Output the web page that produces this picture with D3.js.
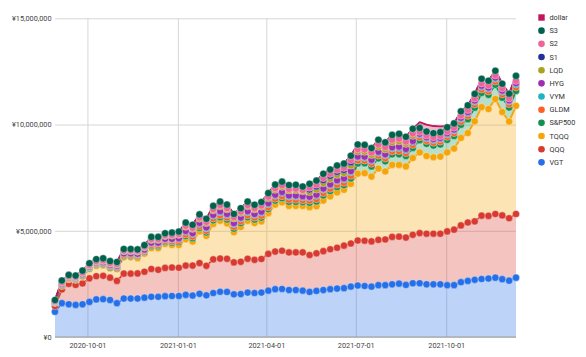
<!DOCTYPE html>
<html><head><meta charset="utf-8">
<script src="https://cdn.jsdelivr.net/npm/d3@7"></script>
<style>
body{margin:0;background:#fff}
svg{display:block}
text{font-family:Roboto, Arial, sans-serif}
</style>
</head><body>
<svg id="chart" width="586" height="357"></svg>
<script>
// ---- data (values in million yen) ----
const dates = ["2020-08-29","2020-09-05","2020-09-12","2020-09-19","2020-09-26","2020-10-03","2020-10-10","2020-10-17","2020-10-24","2020-10-31",
"2020-11-07","2020-11-14","2020-11-21","2020-11-28","2020-12-05","2020-12-12","2020-12-19","2020-12-26","2021-01-02","2021-01-09",
"2021-01-16","2021-01-23","2021-01-30","2021-02-06","2021-02-13","2021-02-20","2021-02-27","2021-03-06","2021-03-13","2021-03-20",
"2021-03-27","2021-04-03","2021-04-10","2021-04-17","2021-04-24","2021-05-01","2021-05-08","2021-05-15","2021-05-22","2021-05-29",
"2021-06-05","2021-06-12","2021-06-19","2021-06-26","2021-07-03","2021-07-10","2021-07-17","2021-07-24","2021-07-31","2021-08-07",
"2021-08-14","2021-08-21","2021-08-28","2021-09-04","2021-09-11","2021-09-18","2021-09-25","2021-10-02","2021-10-09","2021-10-16",
"2021-10-23","2021-10-30","2021-11-06","2021-11-13","2021-11-20","2021-11-27","2021-12-04","2021-12-11"];

const VGT = [1.19,1.59,1.54,1.51,1.54,1.65,1.77,1.78,1.74,1.59,
 1.81,1.81,1.81,1.85,1.89,1.89,1.92,1.93,1.93,1.98,
 1.95,2.03,1.96,2.07,2.13,2.12,2.01,2.02,2.09,2.07,
 2.09,2.18,2.25,2.26,2.21,2.21,2.18,2.12,2.17,2.21,
 2.25,2.28,2.30,2.37,2.42,2.40,2.37,2.44,2.44,2.48,
 2.51,2.45,2.53,2.53,2.48,2.48,2.48,2.44,2.44,2.58,
 2.64,2.69,2.73,2.75,2.79,2.72,2.65,2.79];
const QQQ = [0.27,0.65,0.96,0.94,0.98,1.11,1.09,1.10,1.05,1.05,
 1.17,1.17,1.18,1.22,1.31,1.27,1.33,1.34,1.33,1.38,
 1.41,1.45,1.39,1.58,1.56,1.56,1.50,1.52,1.59,1.56,
 1.58,1.73,1.77,1.80,1.77,1.77,1.80,1.74,1.77,1.83,
 1.88,1.92,2.00,2.03,2.12,2.13,2.13,2.13,2.15,2.23,
 2.21,2.23,2.28,2.36,2.38,2.38,2.38,2.53,2.61,2.67,
 2.75,2.75,2.98,2.95,3.00,3.00,2.94,3.00];
const TQQQ = [0.14,0.16,0.22,0.24,0.32,0.43,0.49,0.49,0.44,0.55,
 0.77,0.77,0.72,0.85,0.98,1.02,1.13,1.06,1.07,1.24,
 1.13,1.49,1.41,1.67,1.78,1.67,1.42,1.64,1.79,1.73,
 1.77,1.92,2.21,2.28,2.19,2.19,2.19,2.25,2.21,2.38,
 2.49,2.61,2.63,2.81,3.15,3.18,3.05,3.36,3.20,3.39,
 3.38,3.35,3.61,3.80,3.66,3.60,3.63,3.72,3.82,4.12,
 4.21,4.71,5.11,5.03,5.41,4.87,4.55,5.09];
const SP500 = [0.02,0.03,0.03,0.03,0.04,0.04,0.05,0.05,0.05,0.05,
 0.07,0.07,0.09,0.08,0.10,0.10,0.09,0.11,0.14,0.15,
 0.16,0.16,0.16,0.17,0.17,0.18,0.17,0.18,0.17,0.17,
 0.18,0.19,0.19,0.19,0.19,0.19,0.18,0.21,0.23,0.25,
 0.25,0.25,0.22,0.26,0.48,0.47,0.48,0.48,0.48,0.50,
 0.50,0.49,0.48,0.57,0.57,0.55,0.57,0.59,0.59,0.62,
 0.65,0.64,0.67,0.67,0.67,0.67,0.66,0.70];
const GLDM = [0.01,0.03,0.02,0.02,0.03,0.03,0.03,0.03,0.04,0.04,
 0.04,0.04,0.04,0.04,0.05,0.05,0.05,0.06,0.06,0.08,
 0.08,0.08,0.08,0.09,0.09,0.09,0.09,0.09,0.09,0.09,
 0.09,0.09,0.09,0.10,0.10,0.10,0.09,0.10,0.11,0.11,
 0.11,0.11,0.11,0.12,0.14,0.13,0.13,0.13,0.14,0.14,
 0.15,0.14,0.14,0.14,0.14,0.14,0.14,0.14,0.14,0.15,
 0.16,0.16,0.16,0.16,0.16,0.16,0.16,0.17];
const VYM = [0.02,0.03,0.03,0.03,0.04,0.04,0.04,0.05,0.05,0.05,
 0.06,0.06,0.06,0.06,0.08,0.08,0.08,0.09,0.09,0.12,
 0.12,0.12,0.12,0.13,0.14,0.13,0.13,0.13,0.14,0.13,
 0.14,0.14,0.14,0.15,0.15,0.15,0.14,0.14,0.16,0.16,
 0.16,0.16,0.16,0.17,0.14,0.13,0.13,0.13,0.14,0.14,
 0.15,0.14,0.14,0.12,0.12,0.12,0.12,0.12,0.12,0.13,
 0.13,0.13,0.13,0.13,0.13,0.13,0.13,0.14];
const HYG = [0.01,0.02,0.01,0.01,0.02,0.02,0.02,0.02,0.02,0.02,
 0.02,0.02,0.02,0.02,0.03,0.03,0.02,0.03,0.03,0.04,
 0.04,0.04,0.04,0.04,0.05,0.04,0.04,0.04,0.05,0.04,
 0.05,0.05,0.05,0.05,0.05,0.05,0.05,0.04,0.05,0.05,
 0.05,0.05,0.05,0.05,0.05,0.05,0.05,0.05,0.05,0.05,
 0.06,0.05,0.05,0.05,0.05,0.05,0.05,0.05,0.05,0.05,
 0.05,0.05,0.05,0.05,0.05,0.05,0.05,0.06];
const LQD = [0.02,0.04,0.03,0.03,0.04,0.04,0.05,0.06,0.06,0.06,
 0.10,0.10,0.10,0.10,0.13,0.13,0.13,0.15,0.16,0.20,
 0.20,0.20,0.20,0.21,0.23,0.22,0.22,0.22,0.23,0.22,
 0.23,0.23,0.23,0.24,0.24,0.25,0.23,0.22,0.24,0.25,
 0.25,0.25,0.25,0.26,0.23,0.23,0.23,0.23,0.23,0.24,
 0.25,0.24,0.24,0,0,0,0,0,0,0,
 0,0,0,0,0,0,0,0];
const S1 = [0,0,0,0,0,0,0,0,0,0,
 0,0,0,0,0,0,0,0,0,0,
 0,0,0,0,0,0,0,0,0,0,
 0,0,0,0,0,0,0,0.13,0.15,0.15,
 0.15,0.15,0.15,0.16,0,0,0,0,0,0,
 0,0,0,0,0,0,0,0,0,0,
 0,0,0,0,0,0,0,0];
const S2 = [0.01,0.03,0.02,0.02,0.03,0.03,0.03,0.03,0.03,0.03,
 0.03,0.03,0.03,0.03,0.04,0.04,0.04,0.04,0.04,0.05,
 0.05,0.06,0.06,0.06,0.06,0.06,0.06,0.06,0.06,0.06,
 0.06,0.07,0.07,0.07,0.07,0.07,0.06,0.08,0.08,0.09,
 0.09,0.09,0.09,0.09,0.11,0.11,0.11,0.11,0.11,0.11,
 0.12,0.11,0.11,0.09,0.09,0.09,0.09,0.09,0.09,0.10,
 0.10,0.10,0.11,0.11,0.11,0.11,0.10,0.11];
const S3 = [0.05,0.08,0.06,0.06,0.08,0.08,0.09,0.09,0.09,0.09,
 0.07,0.07,0.07,0.07,0.10,0.10,0.09,0.10,0.11,0.14,
 0.14,0.14,0.14,0.15,0.16,0.16,0.15,0.16,0.16,0.15,
 0.16,0.17,0.17,0.17,0.18,0.18,0.16,0.18,0.19,0.20,
 0.20,0.20,0.20,0.21,0.22,0.21,0.21,0.22,0.22,0.23,
 0.23,0.22,0.22,0.18,0.18,0.18,0.18,0.19,0.19,0.20,
 0.21,0.21,0.21,0.21,0.21,0.21,0.21,0.23];
const dollar = [0,0,0,0,0,0,0,0,0,0,
 0,0,0,0,0,0,0,0,0,0,
 0,0,0,0,0,0,0,0,0,0,
 0,0,0,0,0,0,0,0,0,0,
 0,0,0,0,0,0,0,0,0,0,
 0,0,0,0.27,0.33,0.34,0.27,0.06,0,0,
 0,0,0,0,0,0,0,0];

const seriesNames = ["VGT","QQQ","TQQQ","S&P500","GLDM","VYM","HYG","LQD","S1","S2","S3","dollar"];
const seriesValues = [VGT,QQQ,TQQQ,SP500,GLDM,VYM,HYG,LQD,S1,S2,S3,dollar];
const seriesColors = ["#2570e8","#d83a30","#f5a508","#0f9152","#ff5f22","#20b3c2","#9c2fb3","#aaa31c","#24309a","#f2619a","#00614c","#c2185b"];
const yTicks = [0, 5000000, 10000000, 15000000];
const xTickLabels = ["2020-10-01","2021-01-01","2021-04-01","2021-07-01","2021-10-01"];

// ---- build table ----
const parse = d3.timeParse("%Y-%m-%d");
const table = dates.map((d, i) => {
  const row = {date: parse(d)};
  seriesNames.forEach((n, k) => { row[n] = seriesValues[k][i] * 1e6; });
  return row;
});
const stacked = d3.stack().keys(seriesNames)(table);

const L = 55, R = 516, T = 18.3, B = 337;
const x = d3.scaleTime().domain(d3.extent(table, d => d.date)).range([L, R]);
const y = d3.scaleLinear().domain([0, 15000000]).range([B, T]);

const svg = d3.select("#chart");
const fontSize = 7.3;

// horizontal gridlines + y labels
const yAxis = svg.append("g").attr("transform", `translate(${L},0)`)
  .call(d3.axisLeft(y).tickValues(yTicks).tickSize(-(R - L)).tickPadding(3.5)
    .tickFormat(v => "¥" + d3.format(",")(v)));
yAxis.select(".domain").remove();
yAxis.selectAll("line").attr("stroke", "#d6d6d6").attr("stroke-width", 1);
yAxis.selectAll("text").attr("font-size", fontSize).attr("fill", "#444");

// vertical gridlines + x labels
const xAxis = svg.append("g").attr("transform", `translate(0,${B})`)
  .call(d3.axisBottom(x).tickValues(xTickLabels.map(parse)).tickSize(-(B - T)).tickPadding(5.5)
    .tickFormat(d3.timeFormat("%Y-%m-%d")));
xAxis.select(".domain").remove();
xAxis.selectAll("line").attr("stroke", "#d6d6d6").attr("stroke-width", 1);
xAxis.selectAll("text").attr("font-size", fontSize).attr("fill", "#444");

// areas
const area = d3.area().x(d => x(d.data.date)).y0(d => y(d[0])).y1(d => y(d[1]));
svg.append("g").selectAll("path").data(stacked).join("path")
  .attr("d", area)
  .attr("fill", (d, i) => seriesColors[i])
  .attr("fill-opacity", 0.3);

// baseline
svg.append("line").attr("x1", L).attr("x2", R).attr("y1", B).attr("y2", B)
  .attr("stroke", "#9a9a9a").attr("stroke-width", 1);

// lines
const line = d3.line().x(d => x(d.data.date)).y(d => y(d[1]));
svg.append("g").selectAll("path").data(stacked).join("path")
  .attr("d", line)
  .attr("fill", "none")
  .attr("stroke", (d, i) => seriesColors[i])
  .attr("stroke-width", 1.8)
  .attr("stroke-linejoin", "round");

// points (skip the dollar series and zero values)
stacked.forEach((s, i) => {
  if (seriesNames[i] === "dollar") return;
  svg.append("g").selectAll("circle")
    .data(s.filter(d => d.data[seriesNames[i]] > 0))
    .join("circle")
    .attr("cx", d => x(d.data.date))
    .attr("cy", d => y(d[1]))
    .attr("r", 3.6)
    .attr("fill", seriesColors[i])
    .attr("stroke", "#ffffff")
    .attr("stroke-opacity", 0.45)
    .attr("stroke-width", 0.8);
});

// legend
const lg = svg.append("g");
const legendOrder = seriesNames.map((n, i) => i).reverse();
legendOrder.forEach((k, j) => {
  const cy = 17.5 + j * 13.17;
  if (seriesNames[k] === "dollar") {
    lg.append("rect").attr("x", 538.3).attr("y", cy - 3.2).attr("width", 6.4).attr("height", 6.4)
      .attr("fill", seriesColors[k]);
  } else {
    lg.append("circle").attr("cx", 541.5).attr("cy", cy).attr("r", 3.3).attr("fill", seriesColors[k]);
  }
  lg.append("text").attr("x", 549.5).attr("y", cy).attr("dy", "0.35em")
    .attr("font-size", fontSize).attr("fill", "#333").text(seriesNames[k]);
});
</script>
</body></html>
